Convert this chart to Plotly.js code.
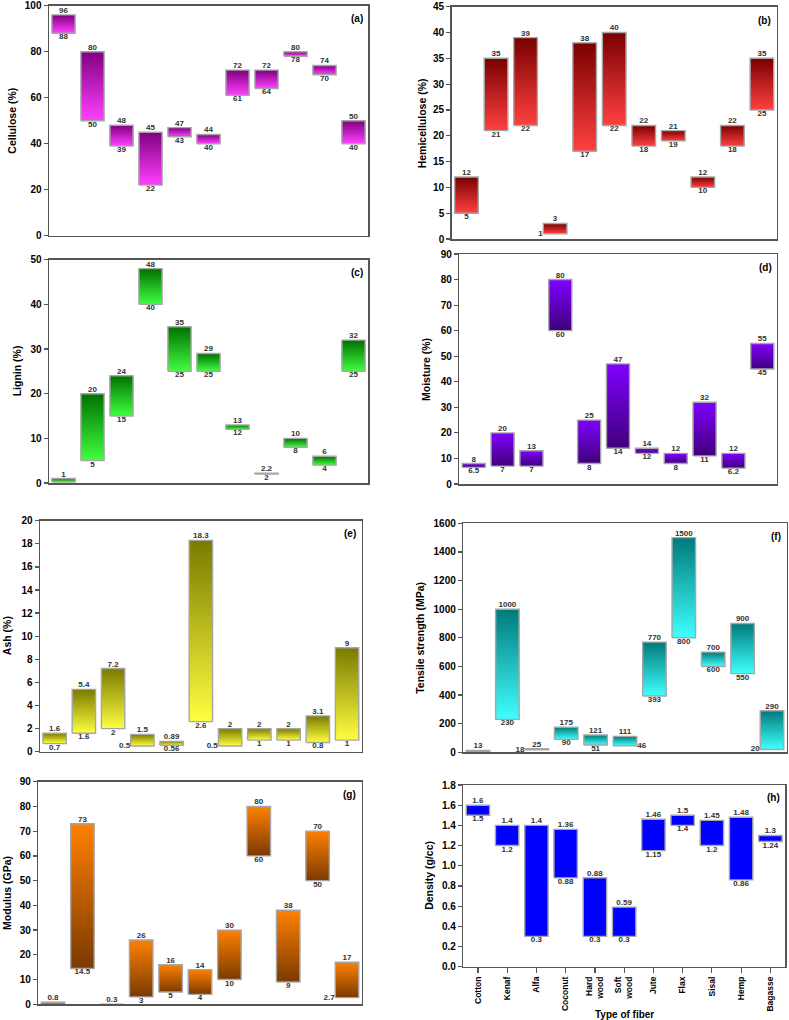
<!DOCTYPE html>
<html>
<head>
<meta charset="utf-8">
<script src="https://cdn.plot.ly/plotly-3.0.1.min.js"></script>
<style>
  html, body { margin: 0; padding: 0; background: #fff; }
  #chart { width: 789px; height: 1020px; }
</style>
</head>
<body>
<div id="chart"></div>
<script>
// Fiber property ranges (min / max)
const fibers = ["Cotton", "Kenaf", "Alfa", "Coconut", "Hard<br>wood", "Soft<br>wood",
  "Jute", "Flax", "Sisal", "Hemp", "Bagasse"];

const celluloseMin = [88, 50, 39, 22, 43, 40, 61, 64, 78, 70, 40];
const celluloseMax = [96, 80, 48, 45, 47, 44, 72, 72, 80, 74, 50];
const hemicelluloseMin = [5, 21, 22, 1, 17, 22, 18, 19, 10, 18, 25];
const hemicelluloseMax = [12, 35, 39, 3, 38, 40, 22, 21, 12, 22, 35];
const ligninMin = [0.2, 5, 15, 40, 25, 25, 12, 2, 8, 4, 25];
const ligninMax = [1, 20, 24, 48, 35, 29, 13, 2.2, 10, 6, 32];
const moistureMin = [6.5, 7, 7, 60, 8, 14, 12, 8, 11, 6.2, 45];
const moistureMax = [8, 20, 13, 80, 25, 47, 14, 12, 32, 12, 55];
const ashMin = [0.7, 1.6, 2, 0.5, 0.56, 2.6, 0.5, 1, 1, 0.8, 1];
const ashMax = [1.6, 5.4, 7.2, 1.5, 0.89, 18.3, 2, 2, 2, 3.1, 9];
const tensileMin = [0, 230, 18, 90, 51, 46, 393, 800, 600, 550, 20];
const tensileMax = [13, 1000, 25, 175, 121, 111, 770, 1500, 700, 900, 290];
const modulusMin = [0, 14.5, 0, 3, 5, 4, 10, 60, 9, 50, 2.7];
const modulusMax = [0.8, 73, 0.3, 26, 16, 14, 30, 80, 38, 70, 17];
const densityMin = [1.5, 1.2, 0.3, 0.88, 0.3, 0.3, 1.15, 1.4, 1.2, 0.86, 1.24];
const densityMax = [1.6, 1.4, 1.4, 1.36, 0.88, 0.59, 1.46, 1.5, 1.45, 1.48, 1.3];

const W = 789, H = 1020;
const FONT = "Liberation Sans, Arial, sans-serif";

// box = [left, top, right, bottom] of the plot area in px; titleX = y-title centre
// hideLow: indices with no lower label; sideLow: lower label placed beside the bar
const panels = [
  { tag: "(a)", title: "Cellulose (%)", lo: celluloseMin, hi: celluloseMax,
    top: "#800080", bottom: "#ff40ff", yMax: 100, dtick: 20,
    box: [49, 5.7, 368, 235.7], titleX: 12 },
  { tag: "(b)", title: "Hemicellulose (%)", lo: hemicelluloseMin, hi: hemicelluloseMax,
    top: "#7a0000", bottom: "#ff4040", yMax: 45, dtick: 5,
    box: [451.7, 6.7, 776.7, 239], titleX: 421.5, sideLow: { 3: "left" } },
  { tag: "(c)", title: "Lignin (%)", lo: ligninMin, hi: ligninMax,
    top: "#007000", bottom: "#40ff40", yMax: 50, dtick: 10,
    box: [49, 259.7, 368, 483], titleX: 17, hideLow: [0] },
  { tag: "(d)", title: "Moisture (%)", lo: moistureMin, hi: moistureMax,
    top: "#8000ff", bottom: "#40007a", yMax: 90, dtick: 10,
    box: [459.3, 254, 776.7, 484], titleX: 426 },
  { tag: "(e)", title: "Ash (%)", lo: ashMin, hi: ashMax,
    top: "#7a7a00", bottom: "#ffff40", yMax: 20, dtick: 2,
    box: [40, 520.7, 361.7, 751.7], titleX: 7, sideLow: { 3: "left", 6: "left" } },
  { tag: "(f)", title: "Tensile strength (MPa)", lo: tensileMin, hi: tensileMax,
    top: "#007a7a", bottom: "#40ffff", yMax: 1600, dtick: 200,
    box: [463.3, 523.3, 786.7, 752.3], titleX: 420, hideLow: [0],
    sideLow: { 2: "left", 5: "right", 10: "left" } },
  { tag: "(g)", title: "Modulus (GPa)", lo: modulusMin, hi: modulusMax,
    top: "#ff8000", bottom: "#7a3a00", yMax: 90, dtick: 10,
    box: [38.3, 781.7, 361.7, 1004.3], titleX: 7, hideLow: [0, 2],
    sideLow: { 10: "left" } },
  { tag: "(h)", title: "Density (g/cc)", lo: densityMin, hi: densityMax,
    top: "#0000ff", bottom: "#0000ff", yMax: 1.8, dtick: 0.2, tickformat: ".1f",
    box: [463.3, 785, 785, 966.7], titleX: 429, showX: true },
];

const traces = [];
const layout = {
  width: W, height: H,
  margin: { l: 0, r: 0, t: 0, b: 0 },
  paper_bgcolor: "#fff", plot_bgcolor: "#fff",
  font: { family: FONT, color: "#000" },
  showlegend: false,
  annotations: [],
};

const HALF = 0.4;
const xIdx = fibers.map((_, i) => i);

panels.forEach((p, k) => {
  const n = k + 1;
  const xa = "x" + n, ya = "y" + n;
  const [l, t, r, b] = p.box;

  // one filled polygon per bar so each bar carries its own vertical gradient
  p.lo.forEach((lo, i) => {
    const hi = p.hi[i];
    const tr = {
      x: [i - HALF, i + HALF, i + HALF, i - HALF, i - HALF],
      y: [lo, lo, hi, hi, lo],
      xaxis: xa, yaxis: ya,
      mode: "lines", fill: "toself",
      line: { color: "#a6a6a6", width: 1.4 },
      hoverinfo: "skip",
    };
    if (p.top === p.bottom) {
      tr.fillcolor = p.top;
    } else {
      tr.fillgradient = {
        type: "vertical", start: lo, stop: hi,
        colorscale: [[0, p.bottom], [1, p.top]],
      };
    }
    traces.push(tr);
  });

  // value labels: max above, min below (or beside for a few crowded ones)
  const labelFont = { family: FONT, size: 8, color: "#333", weight: "bold" };
  traces.push({
    x: xIdx, y: p.hi, text: p.hi.map(String),
    xaxis: xa, yaxis: ya, mode: "text", textposition: "top center",
    textfont: labelFont, cliponaxis: false, hoverinfo: "skip",
  });
  const side = p.sideLow || {};
  const hide = p.hideLow || [];
  traces.push({
    x: xIdx.map(i => side[i] === "left" ? i - HALF - 0.02 : side[i] === "right" ? i + HALF + 0.02 : i),
    y: p.lo,
    text: p.lo.map((v, i) => hide.includes(i) ? "" : String(v)),
    textposition: xIdx.map(i => side[i] ? "middle " + side[i] : "bottom center"),
    xaxis: xa, yaxis: ya, mode: "text",
    textfont: labelFont, cliponaxis: false, hoverinfo: "skip",
  });

  const axisLine = { showline: true, mirror: true, linecolor: "#555", linewidth: 1.5 };
  layout["xaxis" + n] = Object.assign({
    domain: [l / W, r / W], anchor: ya,
    range: [-0.5, 10.5], showgrid: false, zeroline: false, fixedrange: true,
    tickmode: "array", tickvals: xIdx, ticktext: fibers,
    showticklabels: !!p.showX, tickangle: -90,
    ticks: p.showX ? "outside" : "", ticklen: 5, tickcolor: "#555", tickwidth: 1.2,
    tickfont: { family: FONT, size: 8.5, color: "#000", weight: "bold" },
  }, axisLine);
  layout["yaxis" + n] = Object.assign({
    domain: [1 - b / H, 1 - t / H], anchor: xa,
    range: [0, p.yMax], dtick: p.dtick, tick0: 0, tickformat: p.tickformat || "",
    showgrid: false, zeroline: false, fixedrange: true,
    ticks: "outside", ticklen: 4, tickcolor: "#555", tickwidth: 1.2,
    tickfont: { family: FONT, size: 10, color: "#000", weight: "bold" },
  }, axisLine);

  // y title and panel tag
  layout.annotations.push({
    xref: "paper", yref: "paper",
    x: p.titleX / W, y: 1 - (t + b) / 2 / H,
    text: p.title, textangle: -90, showarrow: false,
    xanchor: "center", yanchor: "middle",
    font: { family: FONT, size: 10.5, color: "#000", weight: "bold" },
  });
  layout.annotations.push({
    xref: xa + " domain", yref: ya + " domain",
    x: 0.99, y: 0.975, text: p.tag, showarrow: false,
    xanchor: "right", yanchor: "top",
    font: { family: FONT, size: 10, color: "#000", weight: "bold" },
  });

  if (p.showX) {
    layout.annotations.push({
      xref: xa + " domain", yref: "paper",
      x: 0.5, y: 1 - 1014 / H, text: "Type of fiber", showarrow: false,
      xanchor: "center", yanchor: "middle",
      font: { family: FONT, size: 10, color: "#000", weight: "bold" },
    });
  }
});

Plotly.newPlot("chart", traces, layout, { displayModeBar: false, staticPlot: true });
</script>
</body>
</html>
